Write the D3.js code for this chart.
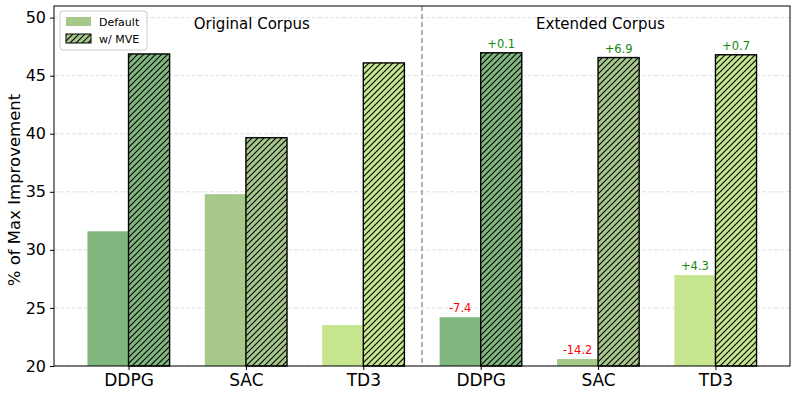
<!DOCTYPE html>
<html><head><meta charset="utf-8">
<script src="https://cdn.jsdelivr.net/npm/d3@7"></script>
<style>body{margin:0;background:#fff}svg{display:block}text{font-family:"DejaVu Sans",sans-serif}</style>
</head><body><svg id="c" width="797" height="395"></svg>
<script>
const categories = ["DDPG","SAC","TD3","DDPG","SAC","TD3"];
const defaultVals = [31.6, 34.8, 23.53, 24.2, 20.6, 27.83];
const mveVals = [46.87, 39.66, 46.1, 46.97, 46.56, 46.8];
const annDefault = [null, null, null, "-7.4", "-14.2", "+4.3"];
const annMve = [null, null, null, "+0.1", "+6.9", "+0.7"];
const yTicks = [20, 25, 30, 35, 40, 45, 50];
const groupTitles = ["Original Corpus", "Extended Corpus"];
const colors = ["#7fb77e", "#a6c88a", "#c5e68f", "#7fb77e", "#a6c88a", "#c5e68f"];

const svg = d3.select("#c");
const L = 54, R = 790, T = 6, B = 366;
const w = 0.35;
const x = d3.scaleLinear().domain([-0.635, 5.635]).range([L, R]);
const y = d3.scaleLinear().domain([20, 51]).range([B, T]);

const defs = svg.append("defs");
const hatchPath = "M-1,1 l2,-2 M0,6 l6,-6 M5,7 l2,-2";
colors.forEach((c, i) => {
  const p = defs.append("pattern").attr("id", "h" + i).attr("patternUnits", "userSpaceOnUse")
    .attr("width", 6).attr("height", 6);
  p.append("rect").attr("width", 6).attr("height", 6).attr("fill", c);
  p.append("path").attr("d", hatchPath).attr("stroke", "#000").attr("stroke-width", 1.1);
});
const lp = defs.append("pattern").attr("id", "hl").attr("patternUnits", "userSpaceOnUse").attr("width", 6).attr("height", 6);
lp.append("rect").attr("width", 6).attr("height", 6).attr("fill", "#a6c88a");
lp.append("path").attr("d", hatchPath).attr("stroke", "#000").attr("stroke-width", 1.1);

// grid
svg.append("g").selectAll("line").data(yTicks).join("line")
  .attr("x1", L).attr("x2", R).attr("y1", d => y(d)).attr("y2", d => y(d))
  .attr("stroke", "#d8d8d8").attr("stroke-dasharray", "4,2").attr("stroke-width", 0.8);

const bw = x(w) - x(0);
const g = svg.append("g");
g.selectAll("rect.d").data(defaultVals).join("rect")
  .attr("x", (d, i) => x(i - w)).attr("width", bw)
  .attr("y", d => y(d)).attr("height", d => y(20) - y(d))
  .attr("fill", (d, i) => colors[i]);
g.selectAll("rect.m").data(mveVals).join("rect")
  .attr("x", (d, i) => x(i)).attr("width", bw)
  .attr("y", d => y(d)).attr("height", d => y(20) - y(d))
  .attr("fill", (d, i) => `url(#h${i})`).attr("stroke", "#000").attr("stroke-width", 1.4);

// annotations
const annCol = s => s.startsWith("-") ? "#ff0000" : "#108a10";
g.selectAll("text.ad").data(defaultVals).join("text")
  .attr("x", (d, i) => x(i - w / 2)).attr("y", d => y(d) - 5)
  .attr("text-anchor", "middle").attr("font-size", 11.5)
  .attr("fill", (d, i) => annDefault[i] ? annCol(annDefault[i]) : "none")
  .text((d, i) => annDefault[i] || "");
g.selectAll("text.am").data(mveVals).join("text")
  .attr("x", (d, i) => x(i + w / 2)).attr("y", d => y(d) - 5)
  .attr("text-anchor", "middle").attr("font-size", 11.5)
  .attr("fill", (d, i) => annMve[i] ? annCol(annMve[i]) : "none")
  .text((d, i) => annMve[i] || "");

// separator
svg.append("line").attr("x1", x(2.5)).attr("x2", x(2.5)).attr("y1", T).attr("y2", B)
  .attr("stroke", "#777").attr("stroke-dasharray", "5,3").attr("stroke-width", 1.1);

// titles
svg.append("text").attr("x", x(1.05)).attr("y", 29).attr("text-anchor", "middle").attr("font-size", 15).text(groupTitles[0]);
svg.append("text").attr("x", x(4.02)).attr("y", 29).attr("text-anchor", "middle").attr("font-size", 15).text(groupTitles[1]);

// frame
svg.append("rect").attr("x", L).attr("y", T).attr("width", R - L).attr("height", B - T)
  .attr("fill", "none").attr("stroke", "#000").attr("stroke-width", 1);

// axes
const ya = svg.append("g").attr("transform", `translate(${L},0)`)
  .call(d3.axisLeft(y).tickValues(yTicks).tickSize(4).tickPadding(4));
ya.select(".domain").remove();
ya.selectAll("text").attr("font-size", 16).attr("fill", "#000").style("font-family", '"DejaVu Sans",sans-serif');
const xa = svg.append("g").attr("transform", `translate(0,${B})`)
  .call(d3.axisBottom(x).tickValues(d3.range(6)).tickFormat(i => categories[i]).tickSize(4).tickPadding(4));
xa.select(".domain").remove();
xa.selectAll("text").attr("font-size", 17).attr("fill", "#000").style("font-family", '"DejaVu Sans",sans-serif');

svg.append("text").attr("transform", `translate(20,190) rotate(-90)`)
  .attr("text-anchor", "middle").attr("font-size", 16.5).text("% of Max Improvement");

// legend
const lg = svg.append("g").attr("transform", "translate(60,11)");
lg.append("rect").attr("width", 87).attr("height", 39).attr("rx", 3).attr("fill", "#fff").attr("fill-opacity", 0.85).attr("stroke", "#ccc");
lg.append("rect").attr("x", 6).attr("y", 6).attr("width", 25).attr("height", 9).attr("fill", "#a6c88a");
lg.append("rect").attr("x", 6).attr("y", 23).attr("width", 25).attr("height", 9).attr("fill", "url(#hl)").attr("stroke", "#000").attr("stroke-width", 1);
lg.append("text").attr("x", 39).attr("y", 15).attr("font-size", 11).text("Default");
lg.append("text").attr("x", 39).attr("y", 32).attr("font-size", 11).text("w/ MVE");
</script></body></html>
